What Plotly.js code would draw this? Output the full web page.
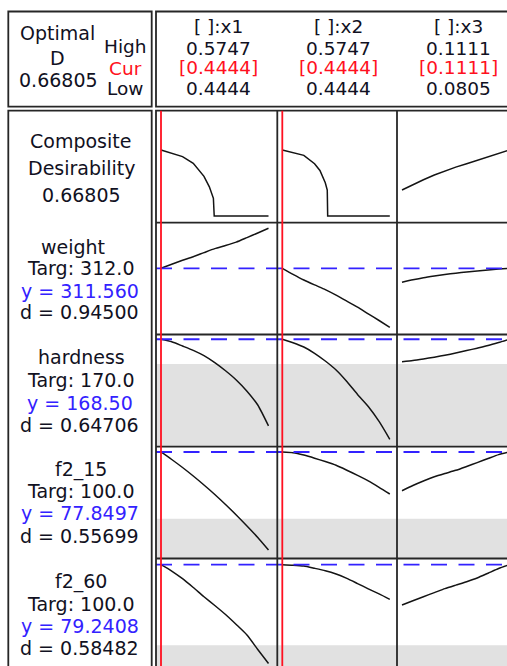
<!DOCTYPE html>
<html>
<head>
<meta charset="utf-8">
<script src="https://cdn.plot.ly/plotly-3.0.1.min.js"></script>
<style>
  html, body { margin: 0; padding: 0; overflow: hidden; background: #ffffff; }
  #chart { width: 525px; height: 680px; }
</style>
</head>
<body>
<div id="chart"></div>
<script>
// ---- Factor settings ----
const factorNames = ['x1', 'x2', 'x3'];
const factorHigh  = [0.5747, 0.5747, 0.1111];
const factorCur   = [0.4444, 0.4444, 0.1111];
const factorLow   = [0.4444, 0.4444, 0.0805];

// ---- Responses ----
const responseNames = ['weight', 'hardness', 'f2_15', 'f2_60'];
const targets       = [312.0, 170.0, 100.0, 100.0];
const currentY      = [311.560, 168.50, 77.8497, 79.2408];
const yDecimals     = [3, 2, 4, 4];
const currentD      = [0.94500, 0.64706, 0.55699, 0.58482];
const lowerBounds   = [304.0, 165.75, 50.0, 50.0];
const compositeD    = 0.66805;

// ---- Factor grids the predictions were evaluated on ----
const x1Grid = [0.4444, 0.4574, 0.4705, 0.4835, 0.4965, 0.5096, 0.5226, 0.5356, 0.5486, 0.5617, 0.5747];
const x2Grid = [0.4444, 0.4574, 0.4705, 0.4835, 0.4965, 0.5096, 0.5226, 0.5356, 0.5486, 0.5617, 0.5747];
const x3Grid = [0.0805, 0.0836, 0.0866, 0.0897, 0.0927, 0.0958, 0.0989, 0.1019, 0.1050, 0.1080, 0.1111];

// ---- Composite desirability traces ----
const dX1   = [0.4444, 0.4574, 0.4705, 0.4835, 0.4965, 0.5030, 0.5079, 0.5089, 0.5226, 0.5486, 0.5747];
const dVsX1 = [0.668, 0.638, 0.601, 0.533, 0.401, 0.295, 0.179, 0, 0, 0, 0];
const dX2   = [0.4444, 0.4574, 0.4705, 0.4835, 0.4900, 0.4965, 0.4989, 0.4994, 0.5226, 0.5486, 0.5747];
const dVsX2 = [0.668, 0.643, 0.614, 0.529, 0.461, 0.337, 0.263, 0, 0, 0, 0];
const dVsX3 = [0.263, 0.319, 0.367, 0.415, 0.455, 0.495, 0.529, 0.563, 0.593, 0.632, 0.668];

// ---- Predicted responses ----
const weightVsX1 = [311.56, 311.97, 312.36, 312.72, 313.13, 313.53, 313.84, 314.18, 314.63, 315.09, 315.56];
const weightVsX2 = [311.56, 310.96, 310.39, 309.90, 309.43, 308.88, 308.28, 307.67, 307.00, 306.34, 305.66];
const weightVsX3 = [310.16, 310.41, 310.62, 310.79, 310.94, 311.07, 311.19, 311.30, 311.40, 311.48, 311.56];

const hardnessVsX1 = [168.50, 168.22, 167.75, 167.27, 166.68, 165.90, 164.99, 163.97, 162.72, 161.18, 158.85];
const hardnessVsX2 = [168.50, 168.12, 167.64, 166.94, 166.08, 165.08, 163.80, 162.35, 161.02, 159.35, 157.36];
const hardnessVsX3 = [166.01, 166.14, 166.31, 166.50, 166.71, 166.97, 167.24, 167.51, 167.80, 168.13, 168.50];

const f2_15VsX1 = [77.85, 74.72, 71.38, 67.83, 64.07, 60.11, 55.93, 51.55, 46.96, 42.16, 36.93];
const f2_15VsX2 = [77.85, 77.56, 76.56, 75.27, 73.85, 72.30, 70.25, 68.08, 65.78, 63.11, 60.31];
const f2_15VsX3 = [61.69, 63.86, 65.74, 67.50, 68.87, 70.21, 71.80, 73.42, 75.14, 76.76, 77.85];

const f2_60VsX1 = [79.24, 76.95, 74.16, 70.97, 67.63, 64.44, 61.17, 57.55, 53.74, 48.50, 43.41];
const f2_60VsX2 = [79.24, 79.06, 78.73, 77.93, 77.06, 75.87, 74.27, 72.39, 70.50, 68.65, 66.69];
const f2_60VsX3 = [64.62, 66.18, 67.63, 69.12, 70.57, 71.84, 73.07, 74.42, 76.16, 77.86, 79.24];

// ---- Page geometry (pixels) ----
const W = 525, H = 680;
const colEdges = [156, 277.3, 397, 518];
const rowEdges = [110.7, 222.7, 334.5, 446.7, 558.5, 670.5];
const lowPad = 5, settingSpan = 107.5;   // px from cell edge to Low, px from Low to High
const yRanges = [[-0.0678, 1.0658], [304.94, 316.12], [156.54, 169.03], [33.38, 80.06], [40.87, 81.49]];

const FONT = 'DejaVu Sans';
const INK = '#111122', BLUE = '#3322ff', RED = '#ff1020', FRAME = '#262626';

const px = v => v / W;
const py = v => 1 - v / H;

// rows: 0 = composite, 1..4 = responses ; columns: factors
const rowCurves = [
  [[dX1, dVsX1], [dX2, dVsX2], [x3Grid, dVsX3]],
  [[x1Grid, weightVsX1], [x2Grid, weightVsX2], [x3Grid, weightVsX3]],
  [[x1Grid, hardnessVsX1], [x2Grid, hardnessVsX2], [x3Grid, hardnessVsX3]],
  [[x1Grid, f2_15VsX1], [x2Grid, f2_15VsX2], [x3Grid, f2_15VsX3]],
  [[x1Grid, f2_60VsX1], [x2Grid, f2_60VsX2], [x3Grid, f2_60VsX3]]
];

const layout = {
  width: W, height: H,
  margin: {l: 0, r: 0, t: 0, b: 0},
  paper_bgcolor: '#ffffff',
  plot_bgcolor: 'rgba(0,0,0,0)',
  showlegend: false,
  shapes: [],
  annotations: []
};
const traces = [];

const axisId = (r, c) => r * 3 + c + 1;
const axSuffix = k => (k === 1 ? '' : String(k));

for (let r = 0; r < 5; r++) {
  for (let c = 0; c < 3; c++) {
    const k = axisId(r, c);
    const s = axSuffix(k);
    const span = factorHigh[c] - factorLow[c];
    const cellW = colEdges[c + 1] - colEdges[c];
    const xr = [factorLow[c] - lowPad * span / settingSpan,
                factorLow[c] + (cellW - lowPad) * span / settingSpan];
    const hidden = {visible: false, showgrid: false, zeroline: false, fixedrange: true};
    layout['xaxis' + s] = Object.assign({}, hidden, {
      domain: [px(colEdges[c]), px(colEdges[c + 1])], range: xr, anchor: 'y' + s
    });
    layout['yaxis' + s] = Object.assign({}, hidden, {
      domain: [py(rowEdges[r + 1]), py(rowEdges[r])], range: yRanges[r], anchor: 'x' + s
    });

    // shaded band below the lower bound of each response
    if (r >= 2) {
      layout.shapes.push({
        type: 'rect', layer: 'below',
        xref: 'x' + s + ' domain', x0: 0, x1: 1,
        yref: 'y' + s, y0: yRanges[r][0], y1: lowerBounds[r - 1],
        fillcolor: '#e1e1e1', line: {width: 0}
      });
    }

    const [xs, ys] = rowCurves[r][c];
    traces.push({
      type: 'scatter', mode: 'lines',
      x: xs, y: ys,
      xaxis: 'x' + s, yaxis: 'y' + s,
      line: {color: '#141414', width: 1.5, shape: r === 0 ? 'linear' : 'spline', smoothing: 0.6},
      hoverinfo: 'skip'
    });
  }
}

// current response values (blue dashed)
for (let i = 0; i < 4; i++) {
  const s = axSuffix(axisId(i + 1, 0));
  layout.shapes.push({
    type: 'line', layer: 'above',
    xref: 'paper', x0: px(colEdges[0]), x1: px(colEdges[3]),
    yref: 'y' + s, y0: currentY[i], y1: currentY[i],
    line: {color: BLUE, width: 1.8, dash: '16px,11.5px'}
  });
}

// frame: four boxes and the cell grid
const box = (x0, y0, x1, y1) => layout.shapes.push({
  type: 'rect', layer: 'above', xref: 'paper', yref: 'paper',
  x0: px(x0), x1: px(x1), y0: py(y1), y1: py(y0),
  line: {color: FRAME, width: 1.8}, fillcolor: 'rgba(0,0,0,0)'
});
const seg = (x0, y0, x1, y1) => layout.shapes.push({
  type: 'line', layer: 'above', xref: 'paper', yref: 'paper',
  x0: px(x0), x1: px(x1), y0: py(y0), y1: py(y1),
  line: {color: FRAME, width: 1.8}
});
box(8.3, 11.5, 151.7, 106.7);
box(156, 11.5, 540, 106.7);
box(8.3, 110.7, 151.7, 700);
box(156, 110.7, 540, 700);
seg(colEdges[1], rowEdges[0], colEdges[1], 700);
seg(colEdges[2], rowEdges[0], colEdges[2], 700);
for (let r = 1; r < 5; r++) seg(colEdges[0], rowEdges[r], 540, rowEdges[r]);

// current factor settings (red vertical)
for (let c = 0; c < 3; c++) {
  const s = axSuffix(axisId(0, c));
  layout.shapes.push({
    type: 'line', layer: 'above',
    xref: 'x' + s, x0: factorCur[c], x1: factorCur[c],
    yref: 'paper', y0: py(700), y1: py(rowEdges[0]),
    line: {color: RED, width: 1.8}
  });
}

// ---- Text ----
const label = (text, x, y, color, size) => layout.annotations.push({
  text: text, x: px(x), y: py(y), xref: 'paper', yref: 'paper',
  xanchor: 'center', yanchor: 'middle', showarrow: false,
  font: {family: FONT, size: size || 19, color: color || INK}
});

label('Optimal', 57.5, 33.3);
label('D', 57, 57.5);
label(compositeD.toFixed(5), 58.3, 80.3);
label('High', 125, 46.7, INK, 18.5);
label('Cur', 125.8, 68.3, RED, 18.5);
label('Low', 125, 88.3, INK, 18.5);

const headerX = [218, 338, 458];
for (let c = 0; c < 3; c++) {
  label('[ ]:' + factorNames[c], headerX[c], 26.7, INK, 18.5);
  label(factorHigh[c].toFixed(4), headerX[c], 48.3, INK, 18.5);
  label('[' + factorCur[c].toFixed(4) + ']', headerX[c], 67.8, RED, 18.5);
  label(factorLow[c].toFixed(4), headerX[c], 88.3, INK, 18.5);
}

label('Composite', 80.5, 140.8);
label('Desirability', 81.5, 167.5);
label(compositeD.toFixed(5), 81, 195.3);

const nameX = [73, 81, 80.5, 80.5];
const lineY = [[246.7, 268.3, 290.5, 312.2],
               [356.7, 380, 402.5, 424.5],
               [469.7, 491.3, 513.3, 536.2],
               [581.3, 603.7, 625.5, 647.5]];
for (let i = 0; i < 4; i++) {
  label(responseNames[i], nameX[i], lineY[i][0]);
  label('Targ: ' + targets[i].toFixed(1), 80.5, lineY[i][1]);
  label('y = ' + currentY[i].toFixed(yDecimals[i]), 79.5, lineY[i][2], BLUE);
  label('d = ' + currentD[i].toFixed(5), 79.5, lineY[i][3]);
}

Plotly.newPlot('chart', traces, layout, {staticPlot: true, displayModeBar: false});
</script>
</body>
</html>
